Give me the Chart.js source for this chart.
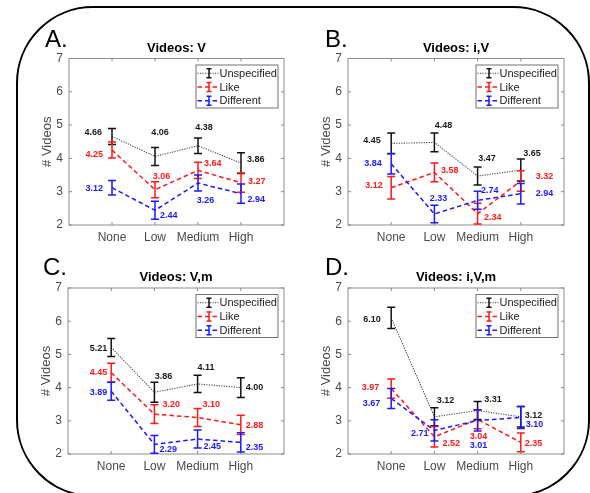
<!DOCTYPE html>
<html><head><meta charset="utf-8">
<script src="https://cdn.jsdelivr.net/npm/chart.js@4.4.1/dist/chart.umd.min.js"></script>
<style>
html,body{margin:0;padding:0;background:#fff;}
body{width:590px;height:493px;overflow:hidden;position:relative;}
#frame{position:absolute;left:16px;top:6px;width:574px;height:491px;border:2.5px solid #000;border-radius:77px;box-sizing:border-box;}
canvas{position:absolute;}
</style></head>
<body>
<div id="frame"></div>
<canvas id="cA" width="282" height="240" style="left:18px;top:12px;width:282px;height:240px"></canvas>
<canvas id="cB" width="288" height="240" style="left:300px;top:12px;width:288px;height:240px"></canvas>
<canvas id="cC" width="282" height="236" style="left:18px;top:252px;width:282px;height:236px"></canvas>
<canvas id="cD" width="288" height="236" style="left:300px;top:252px;width:288px;height:236px"></canvas>
<script>
// ---------- data ----------
const categories = ['None', 'Low', 'Medium', 'High'];
const seriesNames = ['Unspecified', 'Like', 'Different'];
const panelTitles = ['Videos: V', 'Videos: i,V', 'Videos: V,m', 'Videos: i,V,m'];
const panelLetters = ['A.', 'B.', 'C.', 'D.'];
const yTicks = [2, 3, 4, 5, 6, 7];
const xTickValues = [1, 2, 3, 4];

const aUnspecified = [4.66, 4.06, 4.38, 3.86];
const aLike        = [4.25, 3.06, 3.64, 3.27];
const aDifferent   = [3.12, 2.44, 3.26, 2.94];
const aUnspecifiedErr = [0.24, 0.27, 0.23, 0.31];
const aLikeErr        = [0.24, 0.24, 0.245, 0.29];
const aDifferentErr   = [0.22, 0.27, 0.24, 0.29];

const bUnspecified = [4.45, 4.48, 3.47, 3.65];
const bLike        = [3.12, 3.58, 2.34, 3.32];
const bDifferent   = [3.84, 2.33, 2.74, 2.94];
const bUnspecifiedErr = [0.31, 0.28, 0.27, 0.33];
const bLikeErr        = [0.34, 0.28, 0.31, 0.31];
const bDifferentErr   = [0.31, 0.26, 0.27, 0.31];

const cUnspecified = [5.21, 3.86, 4.11, 4.00];
const cLike        = [4.45, 3.20, 3.10, 2.88];
const cDifferent   = [3.89, 2.29, 2.45, 2.35];
const cUnspecifiedErr = [0.27, 0.30, 0.26, 0.30];
const cLikeErr        = [0.28, 0.28, 0.27, 0.29];
const cDifferentErr   = [0.27, 0.265, 0.27, 0.29];

const dUnspecified = [6.10, 3.12, 3.31, 3.12];
const dLike        = [3.97, 2.52, 3.04, 2.35];
const dDifferent   = [3.67, 2.71, 3.01, 3.10];
const dUnspecifiedErr = [0.32, 0.27, 0.27, 0.31];
const dLikeErr        = [0.29, 0.31, 0.28, 0.28];
const dDifferentErr   = [0.30, 0.32, 0.32, 0.33];

// ---------- layout (text label placement relative to each point: align, dx, dy in px) ----------
const labelPlacement = [
  [ [['r',-10,-4],['c',5,-24],['c',6,-18],['l',6,-4]],
    [['r',-9,4],['c',6.5,-13],['l',6,-7],['l',7,-1]],
    [['r',-9,0.5],['l',5,5.5],['c',7.5,17],['l',6.5,6]] ],
  [ [['r',-10.5,-2.5],['c',9,-17],['c',9.5,-17.5],['l',2.5,-16.5]],
    [['r',-8.5,-2],['l',6.6,-2],['l',6.4,4],['l',15,-4.5]],
    [['r',-9.5,0],['c',4,-15],['l',3.4,-10],['l',15,0]] ],
  [ [['r',-4,1.5],['c',9,-15.5],['c',8.5,-16],['l',5,0]],
    [['r',-4,0],['l',8,-10],['l',5,-13],['l',5,0.5]],
    [['r',-4,1.5],['l',5,5.5],['l',6,7.5],['l',5,5]] ],
  [ [['r',-10.5,2],['c',11,-16],['l',6.7,-10.5],['l',4,-1]],
    [['r',-12,-1],['l',8,7],['c',1,17],['l',4,1]],
    [['r',-11,5],['r',-6,3.5],['c',1,25.5],['l',5,7]] ]
];

const panels = [
  {id:'cA', vals:[aUnspecified,aLike,aDifferent], errs:[aUnspecifiedErr,aLikeErr,aDifferentErr],
   canvas:{l:18,t:12,w:282,h:240}, area:{L:69,T:58.5,R:284,B:225}, letter:{x:45,y:47}},
  {id:'cB', vals:[bUnspecified,bLike,bDifferent], errs:[bUnspecifiedErr,bLikeErr,bDifferentErr],
   canvas:{l:300,t:12,w:288,h:240}, area:{L:348,T:58.5,R:564,B:225}, letter:{x:325,y:47}},
  {id:'cC', vals:[cUnspecified,cLike,cDifferent], errs:[cUnspecifiedErr,cLikeErr,cDifferentErr],
   canvas:{l:18,t:252,w:282,h:236}, area:{L:68,T:288,R:284,B:454}, letter:{x:43,y:275}},
  {id:'cD', vals:[dUnspecified,dLike,dDifferent], errs:[dUnspecifiedErr,dLikeErr,dDifferentErr],
   canvas:{l:300,t:252,w:288,h:236}, area:{L:348,T:288,R:564,B:454}, letter:{x:325,y:275}}
];

const FONT = "'Liberation Sans', Arial, Helvetica, sans-serif";
Chart.defaults.font.family = FONT;

const styles = [
  {line:'rgba(40,40,40,0.85)', bar:'#111111', text:'#1a1a1a', dash:[1.2,1.3], width:1.1},
  {line:'#ff1a1a', bar:'#ff1a1a', text:'#ff1a1a', dash:[4.5,3], width:1.5},
  {line:'#1a1aff', bar:'#1a1aff', text:'#1a1aff', dash:[4.5,3], width:1.5}
];

const WY = 32, HX = 22;

const decor = {
  id: 'decor',
  beforeDatasetsDraw(chart, args, o) {
    const {ctx, chartArea: a, scales: {x, y}} = chart;
    ctx.save();
    ctx.strokeStyle = '#8c8c8c'; ctx.lineWidth = 1;
    ctx.strokeRect(a.left, a.top, a.right - a.left, a.bottom - a.top);
    ctx.beginPath();
    yTicks.forEach(v => {
      const py = y.getPixelForValue(v);
      ctx.moveTo(a.left, py); ctx.lineTo(a.left + 3, py);
      ctx.moveTo(a.right, py); ctx.lineTo(a.right - 3, py);
    });
    xTickValues.forEach(v => {
      const px = x.getPixelForValue(v);
      ctx.moveTo(px, a.bottom); ctx.lineTo(px, a.bottom - 3);
      ctx.moveTo(px, a.top); ctx.lineTo(px, a.top + 3);
    });
    ctx.stroke();
    ctx.restore();
  },
  afterDatasetsDraw(chart, args, o) {
    const {ctx, chartArea: a, scales: {x, y}} = chart;
    const ds = chart.data.datasets;
    ctx.save();
    // error bars
    ds.forEach((d, i) => {
      ctx.strokeStyle = d.barColor; ctx.lineWidth = 1.5; ctx.setLineDash([]);
      ctx.beginPath();
      d.data.forEach((p, j) => {
        const px = x.getPixelForValue(p.x);
        const yt = y.getPixelForValue(p.y + d.errors[j]);
        const yb = y.getPixelForValue(p.y - d.errors[j]);
        ctx.moveTo(px, yt); ctx.lineTo(px, yb);
        ctx.moveTo(px - 4, yt); ctx.lineTo(px + 4, yt);
        ctx.moveTo(px - 4, yb); ctx.lineTo(px + 4, yb);
      });
      ctx.stroke();
    });
    // value labels
    ctx.font = 'bold 9px ' + FONT;
    ctx.textBaseline = 'middle';
    ds.forEach((d, i) => {
      ctx.fillStyle = d.textColor;
      d.data.forEach((p, j) => {
        const [al, dx, dy] = o.placement[i][j];
        ctx.textAlign = al === 'l' ? 'left' : al === 'r' ? 'right' : 'center';
        ctx.fillText(p.y.toFixed(2), x.getPixelForValue(p.x) + dx, y.getPixelForValue(p.y) + dy);
      });
    });
    // legend
    const bw = 82, bh = 43;
    const bx = a.right - 6 - bw, by = a.top + 6.5;
    ctx.fillStyle = '#ffffff';
    ctx.fillRect(bx, by, bw, bh);
    ctx.strokeStyle = '#707070'; ctx.lineWidth = 1;
    ctx.strokeRect(bx, by, bw, bh);
    ctx.font = '11px ' + FONT;
    ctx.textAlign = 'left'; ctx.textBaseline = 'middle';
    ds.forEach((d, i) => {
      const ly = by + 8.3 + i * 13.7;
      ctx.strokeStyle = d.borderColor; ctx.lineWidth = d.borderWidth;
      ctx.setLineDash(d.borderDash);
      ctx.beginPath(); ctx.moveTo(bx + 1.5, ly); ctx.lineTo(bx + 22.5, ly); ctx.stroke();
      ctx.setLineDash([]);
      ctx.strokeStyle = d.barColor; ctx.lineWidth = 1.5;
      const ex = bx + 13;
      ctx.beginPath();
      ctx.moveTo(ex, ly - 4.5); ctx.lineTo(ex, ly + 4.5);
      ctx.moveTo(ex - 2.5, ly - 4.5); ctx.lineTo(ex + 2.5, ly - 4.5);
      ctx.moveTo(ex - 2.5, ly + 4.5); ctx.lineTo(ex + 2.5, ly + 4.5);
      ctx.stroke();
      ctx.fillStyle = '#1a1a1a';
      ctx.fillText(d.label, bx + 23.5, ly + 0.5);
    });
    // title
    ctx.fillStyle = '#000';
    ctx.font = 'bold 13px ' + FONT;
    ctx.textAlign = 'center'; ctx.textBaseline = 'middle';
    ctx.fillText(o.title, (a.left + a.right) / 2, a.top - 10.5);
    // panel letter
    ctx.font = '24px ' + FONT;
    ctx.textAlign = 'left'; ctx.textBaseline = 'alphabetic';
    ctx.fillText(o.letter, o.letterX, o.letterY);
    ctx.restore();
  }
};

panels.forEach((p, k) => {
  const c = p.canvas, A = p.area;
  const datasets = seriesNames.map((name, i) => ({
    label: name,
    data: categories.map((cat, j) => ({x: j + 1, y: p.vals[i][j]})),
    errors: p.errs[i],
    borderColor: styles[i].line,
    borderDash: styles[i].dash,
    borderWidth: styles[i].width,
    barColor: styles[i].bar,
    textColor: styles[i].text,
    pointRadius: 0,
    fill: false,
    tension: 0,
    order: 3 - i
  }));
  new Chart(document.getElementById(p.id), {
    type: 'line',
    data: {datasets},
    plugins: [decor],
    options: {
      responsive: false, animation: false, devicePixelRatio: 1,
      layout: {padding: {left: A.L - c.l - WY, top: A.T - c.t, right: c.l + c.w - A.R, bottom: c.t + c.h - A.B - HX}},
      plugins: {
        legend: {display: false}, tooltip: {enabled: false}, title: {display: false},
        decor: {placement: labelPlacement[k], title: panelTitles[k], letter: panelLetters[k],
                letterX: p.letter.x - c.l, letterY: p.letter.y - c.t}
      },
      scales: {
        x: {
          type: 'linear', min: 0, max: 5,
          afterBuildTicks: s => { s.ticks = xTickValues.map(v => ({value: v})); },
          afterFit: s => { s.height = HX; },
          grid: {display: false, drawTicks: false}, border: {display: false},
          ticks: {padding: 5, color: '#4a4a4a', font: {size: 12}, autoSkip: false, maxRotation: 0,
                  callback: v => categories[v - 1] ?? ''}
        },
        y: {
          type: 'linear', min: 2, max: 7,
          afterBuildTicks: s => { s.ticks = yTicks.map(v => ({value: v})); },
          afterFit: s => { s.width = WY; },
          grid: {display: false, drawTicks: false}, border: {display: false},
          ticks: {padding: 6, color: '#4a4a4a', font: {size: 12}},
          title: {display: true, text: '# Videos', color: '#4a4a4a', font: {size: 13}, padding: {top: 3, bottom: 0}}
        }
      }
    }
  });
});
</script>
</body></html>
